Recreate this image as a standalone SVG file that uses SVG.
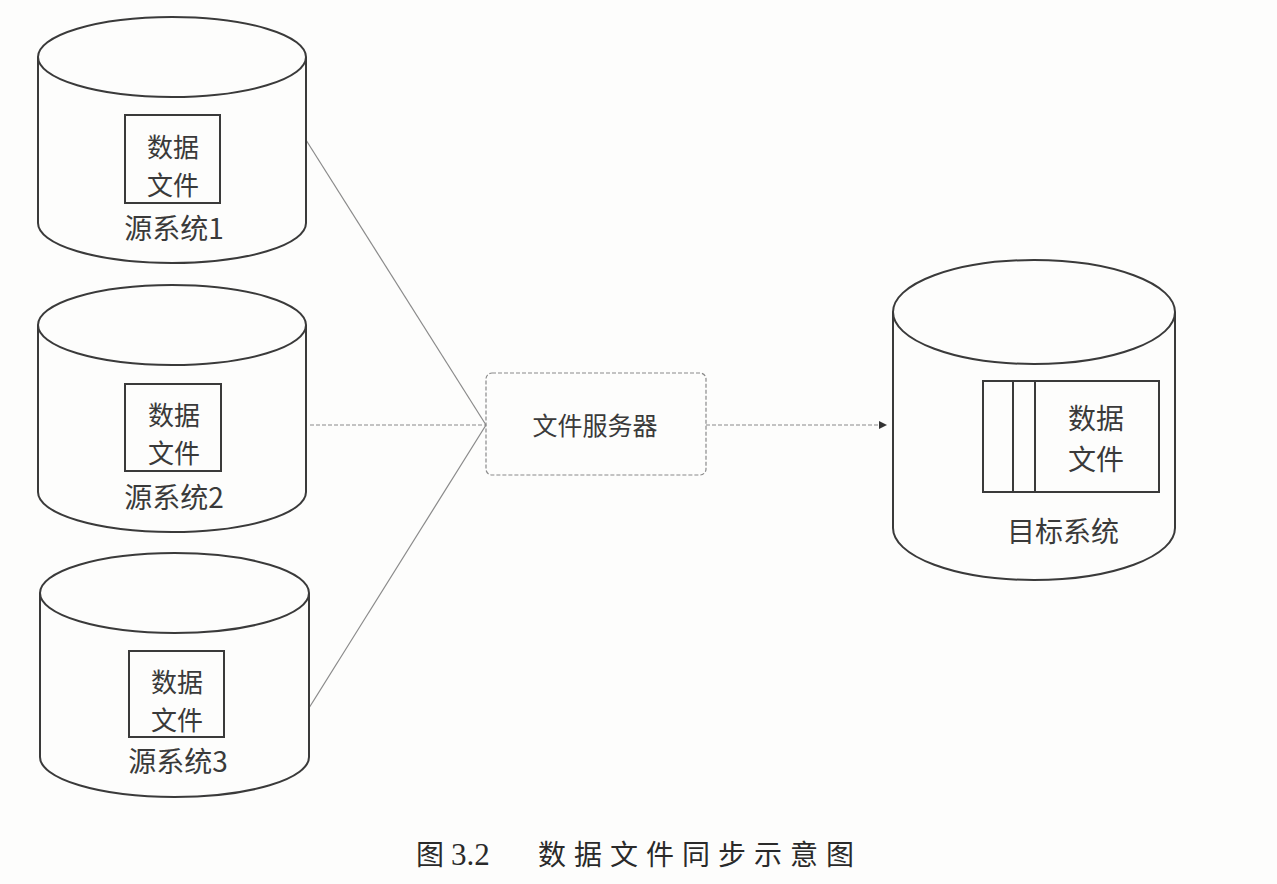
<svg xmlns="http://www.w3.org/2000/svg" width="1277" height="884" viewBox="0 0 1277 884">
<style>
.cyl{fill:none;stroke:#3a3a3a;stroke-width:2}
.box{fill:none;stroke:#3a3a3a;stroke-width:2}
.t{font-family:"Noto Sans CJK SC","Noto Sans",sans-serif;fill:#3a3a3a;text-anchor:middle;dominant-baseline:central}
.t28{font-size:28px}
.t26{font-size:26px}
.conn{fill:none;stroke:#8a8a8a;stroke-width:1.2}
.dash{stroke-dasharray:4 2}
.cap{font-family:"Liberation Serif","Noto Sans CJK SC",serif;font-size:28px;fill:#2a2a2a}
</style>
<defs>
<marker id="arr" markerWidth="8" markerHeight="8" refX="7" refY="4" orient="auto" markerUnits="userSpaceOnUse">
<path d="M0,0 L8,4 L0,8 Z" fill="#333"/>
</marker>
</defs>
<rect width="1277" height="884" fill="#fdfdfc"/>
<g id="connectors">
<line class="conn" x1="306" y1="140" x2="486" y2="425"/>
<line class="conn dash" x1="310" y1="425" x2="486" y2="425"/>
<line class="conn" x1="309" y1="708" x2="486" y2="425"/>
<line class="conn dash" x1="706" y1="425" x2="886" y2="425" marker-end="url(#arr)"/>
</g>
<g id="src1">
<path class="cyl" d="M38,57 L38,223 A134,40 0 0 0 306,223 L306,57"/>
<ellipse class="cyl" cx="172" cy="57" rx="134" ry="40"/>
<rect class="box" x="125" y="115" width="95" height="88"/>
<text class="t t26" x="173" y="145">数据</text>
<text class="t t26" x="173" y="183">文件</text>
<text class="t t28" x="174" y="227">源系统1</text>
</g>
<g id="src2">
<path class="cyl" d="M38,325 L38,492 A134,40 0 0 0 306,492 L306,325"/>
<ellipse class="cyl" cx="172" cy="325" rx="134" ry="40"/>
<rect class="box" x="125" y="384" width="96" height="87"/>
<text class="t t26" x="174" y="413">数据</text>
<text class="t t26" x="174" y="451">文件</text>
<text class="t t28" x="174" y="496">源系统2</text>
</g>
<g id="src3">
<path class="cyl" d="M40,593 L40,757 A134.5,40 0 0 0 309,757 L309,593"/>
<ellipse class="cyl" cx="174.5" cy="593" rx="134.5" ry="40"/>
<rect class="box" x="129" y="651" width="95" height="86"/>
<text class="t t26" x="177" y="680">数据</text>
<text class="t t26" x="177" y="718">文件</text>
<text class="t t28" x="178" y="760">源系统3</text>
</g>
<g id="server">
<rect x="486" y="373" width="220" height="102" rx="6" fill="none" stroke="#8a8a8a" stroke-width="1.2" stroke-dasharray="4 2"/>
<text class="t" style="font-size:25px" x="595" y="424">文件服务器</text>
</g>
<g id="target">
<path class="cyl" d="M893,312 L893,528 A141,52 0 0 0 1175,528 L1175,312"/>
<ellipse class="cyl" cx="1034" cy="312" rx="141" ry="52"/>
<rect class="box" x="983" y="381" width="176" height="111"/>
<line class="box" x1="1013" y1="381" x2="1013" y2="492"/>
<line class="box" x1="1035" y1="381" x2="1035" y2="492"/>
<text class="t t28" x="1096" y="417">数据</text>
<text class="t t28" x="1096" y="458">文件</text>
<text class="t t28" x="1063" y="530">目标系统</text>
</g>
<g id="caption">
<text class="cap" x="416" y="865">图 <tspan style="font-size:31px">3.2</tspan><tspan x="538" letter-spacing="8">数据文件同步示意图</tspan></text>
</g>
</svg>
